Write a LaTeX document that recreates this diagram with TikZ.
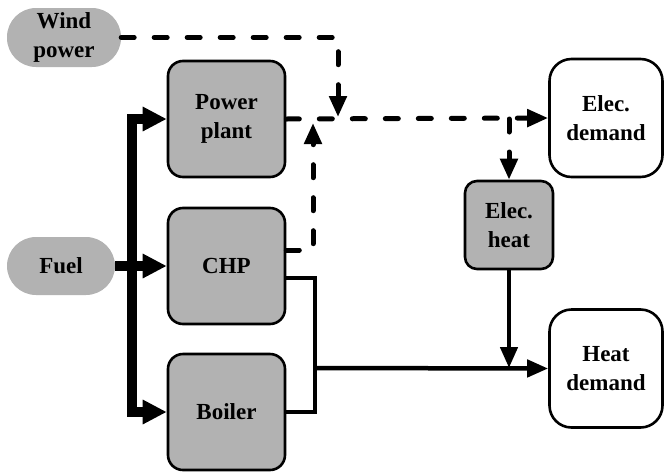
\documentclass[tikz,border=0pt]{standalone}
\usepackage{fontspec}
\setmainfont{Liberation Serif}[BoldFont={Liberation Serif Bold}]
\usetikzlibrary{arrows.meta}
\begin{document}
\begin{tikzpicture}[x=1pt,y=-1pt,
  font=\fontsize{23}{29.5}\selectfont\bfseries,
  unit/.style={draw=black,line width=2.6pt,fill=black!30,rounded corners=15pt,minimum width=117pt,minimum height=116pt,align=center,inner sep=0pt},
  demand/.style={draw=black,line width=2.6pt,fill=white,rounded corners=22pt,minimum width=113pt,minimum height=118pt,align=center,inner sep=0pt},
  src/.style={fill=black!30,rounded corners=29pt,align=center,inner sep=0pt},
  elecflow/.style={line width=5pt,dash pattern=on 13pt off 20pt,line cap=round},
  fuelflow/.style={line width=10pt},
  heatflow/.style={line width=4.5pt},
  bigtip/.style={-{Triangle[length=24pt,width=23pt]}},
  tip/.style={-{Triangle[length=21pt,width=17pt]}}
]
\useasboundingbox (0,0) rectangle (664,472);
\node[src,minimum width=114pt,minimum height=59pt] (wind) at (64,37.5) {Wind\\power};
\node[src,minimum width=108pt,minimum height=58pt] (fuel) at (61,266) {Fuel};
\node[unit] (pp) at (226.5,119) {Power\\plant};
\node[unit] (chp) at (226.5,266) {CHP};
\node[unit] (boil) at (226.5,412) {Boiler};
\node[demand] (ed) at (606,118) {Elec.\\demand};
\node[demand] (hd) at (606,368.5) {Heat\\demand};
\node[unit,minimum width=88pt,minimum height=88pt,rounded corners=12pt] (eh) at (509,225) {Elec.\\heat};
% junction coordinates
\coordinate (ftop) at (132,119);
\coordinate (fmid) at (132,266);
\coordinate (fbot) at (132,412);
\coordinate (wturn) at (338,37.5);
\coordinate (wend) at (338,117);
\coordinate (chpturn) at (313,250);
\coordinate (chpend) at (313,123);
\coordinate (ehsplit) at (509,119);
\coordinate (hjoin) at (315,368);
\coordinate (ehjoin) at (509,368);
% fuel
\draw[fuelflow,bigtip] (fuel.east) -- (chp.west);
\draw[fuelflow,bigtip] (fmid) -- (ftop) -- (pp.west);
\draw[fuelflow,bigtip] (fmid) -- (fbot) -- (boil.west);
% electricity
\draw[elecflow,tip] (wind.east) -- (wturn) -- (wend);
\draw[elecflow,tip] (pp.east) -- (ed.west);
\draw[elecflow,tip] (chp.east |- chpturn) -- (chpturn) -- (chpend);
\draw[elecflow,tip] (ehsplit) -- (eh.north);
% heat
\draw[heatflow] (chp.east |- 0,278) -| (hjoin) |- (boil.east);
\draw[heatflow,tip] (hjoin) -- (hd.west);
\draw[heatflow,tip] (eh.south) -- (ehjoin);
\end{tikzpicture}
\end{document}
